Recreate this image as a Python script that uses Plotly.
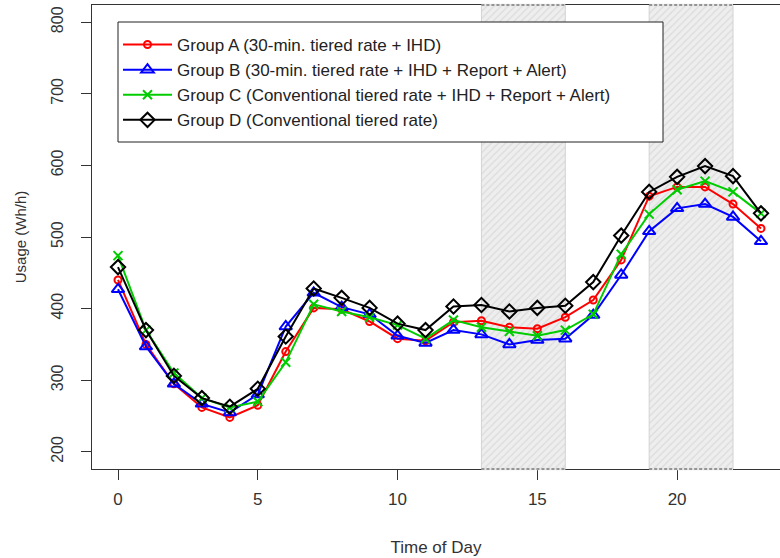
import plotly.graph_objects as go

# ---------------- data ----------------
hours = list(range(24))
group_a = [440, 350, 295, 262, 248, 265, 340, 401, 399, 382, 358, 355,
           381, 383, 374, 372, 388, 412, 468, 557, 570, 570, 546, 512]
group_b = [427, 347, 295, 267, 255, 280, 375, 422, 402, 392, 362, 352,
           370, 364, 350, 356, 358, 391, 447, 508, 540, 546, 528, 494]
group_c = [474, 370, 310, 275, 262, 270, 325, 406, 396, 388, 377, 358,
           384, 374, 368, 362, 370, 392, 476, 532, 566, 578, 563, 533]
group_d = [458, 370, 306, 275, 263, 288, 361, 428, 415, 401, 379, 370,
           403, 405, 396, 401, 404, 437, 502, 563, 584, 599, 585, 533]

series_names = [
    "Group A (30-min. tiered rate + IHD)",
    "Group B (30-min. tiered rate + IHD + Report + Alert)",
    "Group C (Conventional tiered rate + IHD + Report + Alert)",
    "Group D (Conventional tiered rate)",
]
series_values = [group_a, group_b, group_c, group_d]
series_colors = ["#ff0000", "#0000ff", "#00cc00", "#000000"]
series_symbols = ["circle-open", "triangle-up-open", "x-thin-open", "diamond-open"]
series_sizes = [7, 11, 9, 11]

peak_start = [13, 19]
peak_end = [16, 22]

x_ticks = [0, 5, 10, 15, 20]
y_ticks = [200, 300, 400, 500, 600, 700, 800]
x_range = [-0.93, 23.68]
y_range = [176, 824]

FONT = "Liberation Sans, Arial, sans-serif"
TXT = "#333333"

fig = go.Figure()

# shaded peak periods (hatched)
for s, e in zip(peak_start, peak_end):
    fig.add_trace(go.Scatter(
        x=[s, e, e, s, s], y=[y_range[0], y_range[0], y_range[1], y_range[1], y_range[0]],
        mode="lines", fill="toself",
        fillcolor="#ebebeb",
        fillpattern=dict(shape="/", bgcolor="#eeeeee", fgcolor="#c8c8c8", size=5, solidity=0.25),
        line=dict(color="#d2d2d2", width=1),
        showlegend=False, hoverinfo="skip"))

for name, vals, col, sym, sz in zip(series_names, series_values, series_colors,
                                    series_symbols, series_sizes):
    fig.add_trace(go.Scatter(
        x=hours, y=vals, mode="lines+markers", name=name,
        line=dict(color=col, width=2),
        marker=dict(symbol=sym, size=sz, color=col, line=dict(color=col, width=2)),
    ))

shapes = []
for s, e in zip(peak_start, peak_end):
    for yy in (0, 1):
        shapes.append(dict(type="line", xref="x", yref="paper", x0=s, x1=e, y0=yy, y1=yy,
                           line=dict(color="#e6e6e6", width=2.5), layer="above"))
        shapes.append(dict(type="line", xref="x", yref="paper", x0=s, x1=e, y0=yy, y1=yy,
                           line=dict(color="#444444", width=1.2, dash="3px,2px"), layer="above"))

# legend frame
plot_l, plot_t, plot_w, plot_h = 92, 5, 688, 464
def px(x):
    return (x - plot_l) / plot_w
def py(y):
    return 1 - (y - plot_t) / plot_h
shapes.append(dict(type="rect", xref="paper", yref="paper",
                   x0=px(118), x1=px(663), y0=py(142), y1=py(22),
                   line=dict(color="#222222", width=1), fillcolor="white", layer="above"))

fig.update_layout(
    width=780, height=558,
    margin=dict(l=plot_l, r=0, t=plot_t, b=558 - plot_t - plot_h),
    paper_bgcolor="white", plot_bgcolor="white",
    font=dict(family=FONT, color=TXT),
    shapes=shapes,
    showlegend=True,
    legend=dict(x=px(118), y=py(27), xanchor="left", yanchor="top",
                bgcolor="rgba(0,0,0,0)", borderwidth=0,
                font=dict(size=17, color="#222222", family=FONT),
                itemwidth=49, tracegroupgap=0),
    xaxis=dict(range=x_range, tickvals=x_ticks, ticks="outside", ticklen=10,
               tickcolor="#333333", tickwidth=1, showline=True, linecolor="#333333",
               linewidth=1, mirror=True, showgrid=False, zeroline=False, automargin=False,
               tickfont=dict(size=17, color=TXT), ticklabelstandoff=5,
               title=dict(text="Time of Day", font=dict(size=17, color=TXT), standoff=32)),
    yaxis=dict(range=y_range, tickvals=y_ticks, ticks="outside", ticklen=10,
               tickcolor="#333333", tickwidth=1, showline=True, linecolor="#333333",
               linewidth=1, mirror=False, showgrid=False, zeroline=False, automargin=False,
               tickangle=-90, tickfont=dict(size=16, color=TXT), ticklabelstandoff=12,
               title=dict(text="Usage (Wh/h)", font=dict(size=15, color=TXT), standoff=18)),
)

fig.write_html("out.html", config={"displayModeBar": False},
               post_script="document.body.style.margin='0';")
